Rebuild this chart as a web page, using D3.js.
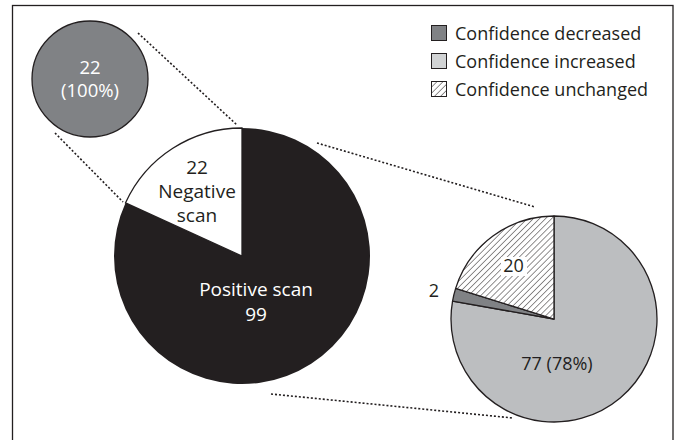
<!DOCTYPE html>
<html>
<head>
<meta charset="utf-8">
<script src="https://cdn.jsdelivr.net/npm/d3@7"></script>
<style>
  html, body { margin: 0; padding: 0; background: #fff; }
  svg { display: block; }
  text { font-family: "Open Sans", "Noto Sans", sans-serif; }
</style>
</head>
<body>
<svg id="chart" width="681" height="440"></svg>
<script>
// ---- data ----
const mainCategories = ["Positive scan", "Negative scan"];
const mainValues = [99, 22];
const smallCategories = ["Negative scan"];
const smallValues = [22];
const smallPercents = ["100%"];
const rightCategories = ["Confidence increased", "Confidence decreased", "Confidence unchanged"];
const rightValues = [77, 2, 20];
const rightPercentLabel = ["78%"];
const legendLabels = ["Confidence decreased", "Confidence increased", "Confidence unchanged"];

// ---- styles ----
const INK = "#231f20";
const DARK = "#808285";
const LIGHT = "#bcbec0";
const LIGHT_SWATCH = "#d1d3d4";

const svg = d3.select("#chart");
const defs = svg.append("defs");
const pat = defs.append("pattern")
  .attr("id", "hatch")
  .attr("patternUnits", "userSpaceOnUse")
  .attr("width", 4.3).attr("height", 4.3)
  .attr("patternTransform", "rotate(45)");
pat.append("rect").attr("width", 4.3).attr("height", 4.3).attr("fill", "#fff");
pat.append("line").attr("x1", 0).attr("y1", 0).attr("x2", 0).attr("y2", 4.3)
  .attr("stroke", INK).attr("stroke-width", 1);

// frame
svg.append("rect").attr("x", 12.5).attr("y", 5.5).attr("width", 660.5).attr("height", 450)
  .attr("fill", "none").attr("stroke", INK).attr("stroke-width", 1.3);

// connector dotted lines
const connectors = [
  [[138, 33], [237, 125]],
  [[55, 133], [123, 202]],
  [[317, 143], [535, 207]],
  [[271, 394], [513, 418]]
];
svg.append("g").selectAll("line").data(connectors).join("line")
  .attr("x1", d => d[0][0]).attr("y1", d => d[0][1])
  .attr("x2", d => d[1][0]).attr("y2", d => d[1][1])
  .attr("stroke", INK).attr("stroke-width", 1.6).attr("stroke-dasharray", "2,2");

const pie = d3.pie().sort(null).value(d => d);

// small circle
const gs = svg.append("g").attr("transform", "translate(90,79)");
const arcS = d3.arc().innerRadius(0).outerRadius(58);
gs.selectAll("path").data(pie(smallValues)).join("path")
  .attr("d", arcS).attr("fill", DARK).attr("stroke", INK).attr("stroke-width", 1.3);
gs.append("text").attr("text-anchor", "middle").attr("fill", "#fff").attr("font-size", 18.5)
  .selectAll("tspan").data([String(smallValues[0]), "(" + smallPercents[0] + ")"]).join("tspan")
  .attr("x", 0).attr("y", (d, i) => -5 + i * 23).text(d => d);

// main pie
const gm = svg.append("g").attr("transform", "translate(242,256)");
const arcM = d3.arc().innerRadius(0).outerRadius(128);
const mainFill = [INK, "#fff"];
gm.selectAll("path").data(pie(mainValues)).join("path")
  .attr("d", arcM).attr("fill", (d, i) => mainFill[i])
  .attr("stroke", (d, i) => i === 1 ? INK : "none").attr("stroke-width", 1.3);
gm.append("text").attr("text-anchor", "middle").attr("fill", INK).attr("font-size", 19)
  .selectAll("tspan").data([String(mainValues[1]), "Negative", "scan"]).join("tspan")
  .attr("x", -45).attr("y", (d, i) => -82 + i * 24).text(d => d);
gm.append("text").attr("text-anchor", "middle").attr("fill", "#fff").attr("font-size", 19)
  .selectAll("tspan").data(["Positive scan", String(mainValues[0])]).join("tspan")
  .attr("x", 14).attr("y", (d, i) => 40 + i * 25).text(d => d);

// right pie
const gr = svg.append("g").attr("transform", "translate(554,319)");
const arcR = d3.arc().innerRadius(0).outerRadius(103);
const rightFill = [LIGHT, DARK, "url(#hatch)"];
gr.selectAll("path").data(pie(rightValues)).join("path")
  .attr("d", arcR).attr("fill", (d, i) => rightFill[i])
  .attr("stroke", INK).attr("stroke-width", 1.3).attr("stroke-linejoin", "round");
gr.append("text").attr("text-anchor", "middle").attr("fill", INK).attr("font-size", 18)
  .attr("x", 3).attr("y", 51).text(rightValues[0] + " (" + rightPercentLabel[0] + ")");
gr.append("text").attr("text-anchor", "middle").attr("fill", INK).attr("font-size", 18)
  .attr("x", -120).attr("y", -22).text(String(rightValues[1]));
gr.append("rect").attr("x", -53).attr("y", -62).attr("width", 26).attr("height", 19).attr("fill", "#fff");
gr.append("text").attr("text-anchor", "middle").attr("fill", INK).attr("font-size", 18)
  .attr("x", -40.5).attr("y", -47).text(String(rightValues[2]));

// legend
const legendFill = [DARK, LIGHT_SWATCH, "url(#hatch)"];
const lg = svg.append("g").attr("transform", "translate(431,25)");
const rows = lg.selectAll("g").data(legendLabels).join("g")
  .attr("transform", (d, i) => `translate(0,${i * 28})`);
rows.append("rect").attr("x", 0.5).attr("y", 0.5).attr("width", 15).attr("height", 15)
  .attr("fill", (d, i) => legendFill[i]).attr("stroke", INK).attr("stroke-width", 1);
rows.append("text").attr("x", 24).attr("y", 14.5).attr("fill", INK).attr("font-size", 18)
  .text(d => d);
</script>
</body>
</html>
